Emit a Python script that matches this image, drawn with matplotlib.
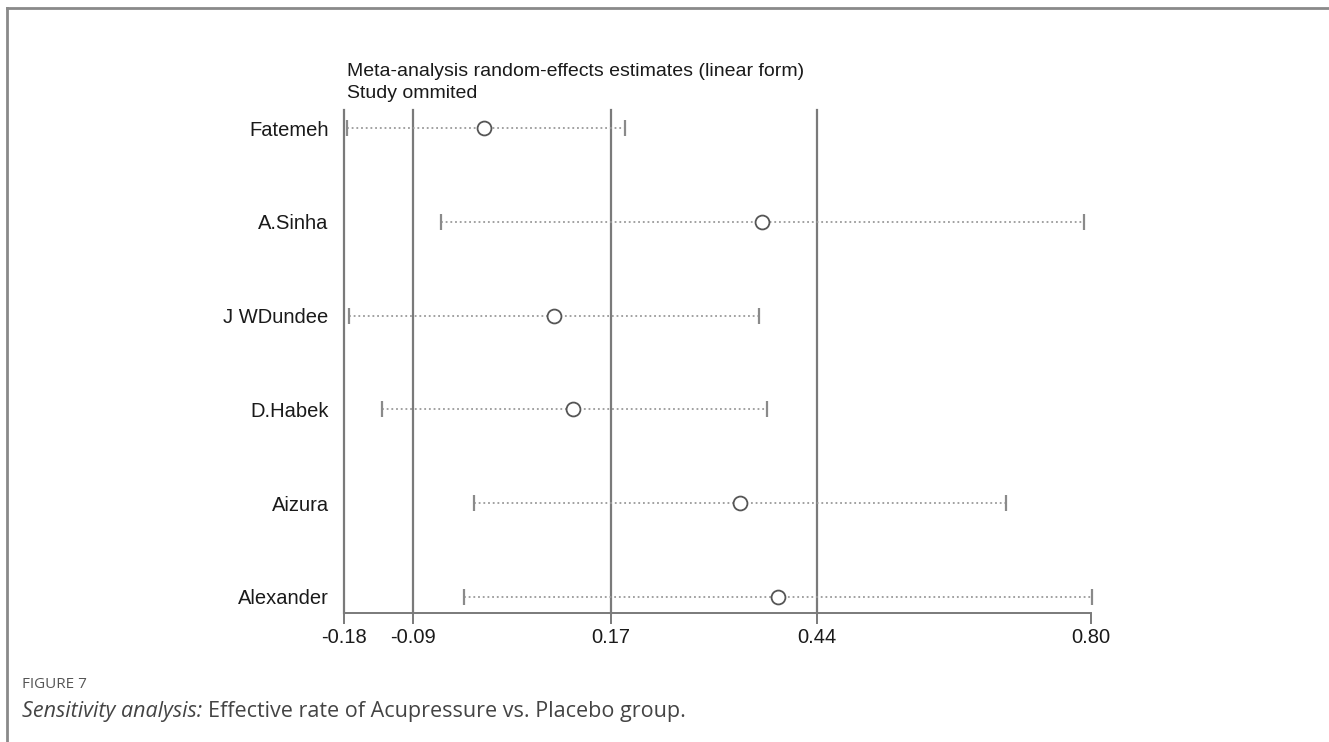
import matplotlib.pyplot as plt
from matplotlib.lines import Line2D

# Leave-one-out sensitivity estimates (linear form)
studies = ["Fatemeh", "A.Sinha", "J WDundee", "D.Habek", "Aizura", "Alexander"]
estimate = [0.004, 0.369, 0.095, 0.121, 0.340, 0.389]
ci_low = [-0.176, -0.053, -0.173, -0.130, -0.009, -0.022]
ci_high = [0.189, 0.791, 0.365, 0.375, 0.689, 0.801]
tick_values = [-0.18, -0.09, 0.17, 0.44, 0.80]
tick_labels = ["-0.18", "-0.09", "0.17", "0.44", "0.80"]
ref_lines = [-0.18, -0.09, 0.17, 0.44]

plt.rcParams["font.family"] = ["Liberation Sans", "DejaVu Sans"]

W, H = 1329, 742
fig = plt.figure(figsize=(W / 100, H / 100), dpi=100)
fig.patch.set_facecolor("white")

# page frame (top and left rules)
fig.add_artist(Line2D([7 / W, 1.0], [1 - 8 / H, 1 - 8 / H], color="#8a8a8a", lw=2))
fig.add_artist(Line2D([7 / W, 7 / W], [1 - 8 / H, 0.0], color="#8a8a8a", lw=2))

left, right = 344 / W, 1091 / W
bottom, top = 1 - 613 / H, 1 - 110 / H
ax = fig.add_axes([left, bottom, right - left, top - bottom])

n = len(studies)
ypos = list(range(n, 0, -1))
ax.set_xlim(-0.18, 0.80)
ax.set_ylim(1 - 16 / 93.8, n + 18 / 93.8)

for v in ref_lines:
    ax.axvline(v, color="#7a7a7a", lw=1.6, zorder=1, clip_on=False)

for y, lo, hi, est in zip(ypos, ci_low, ci_high, estimate):
    ax.plot([lo, hi], [y, y], linestyle=(0, (1, 1.6)), color="#9a9a9a", lw=1.3,
            zorder=2, clip_on=False)
    ax.plot([lo, hi], [y, y], linestyle="none", marker="|", markersize=12,
            markeredgewidth=1.6, color="#8a8a8a", zorder=3, clip_on=False)
    ax.plot([est], [y], linestyle="none", marker="o", markersize=10,
            markerfacecolor="white", markeredgecolor="#555555", markeredgewidth=1.3,
            zorder=4, clip_on=False)

for side in ["top", "right", "left"]:
    ax.spines[side].set_visible(False)
ax.spines["bottom"].set_color("#7a7a7a")
ax.spines["bottom"].set_linewidth(1.4)

ax.set_xticks(tick_values)
ax.set_xticklabels(tick_labels, fontsize=14.5, color="#1a1a1a")
ax.tick_params(axis="x", direction="out", length=8, width=1.4, color="#7a7a7a", pad=3)

ax.set_yticks(ypos)
ax.set_yticklabels(studies, fontsize=14.5, color="#1a1a1a")
ax.tick_params(axis="y", length=0, pad=11)

fig.text(347 / W, 1 - 71 / H, "Meta-analysis random-effects estimates (linear form)",
         fontsize=14, color="#1a1a1a", va="center", ha="left")
fig.text(347 / W, 1 - 94 / H, "Study ommited",
         fontsize=14, color="#1a1a1a", va="center", ha="left")

# caption
cap_font = ["Open Sans", "DejaVu Sans"]
fig.text(22 / W, 1 - 685 / H, "FIGURE 7", fontsize=11, color="#555555",
         family=cap_font, va="center", ha="left")
t1 = fig.text(22 / W, 1 - 711 / H, "Sensitivity analysis:", fontsize=15.5, color="#444444",
              family=cap_font, style="italic", va="center", ha="left")
fig.canvas.draw()
bb = t1.get_window_extent()
fig.text((bb.x1 + 6) / W, 1 - 711 / H, "Effective rate of Acupressure vs. Placebo group.",
         fontsize=15.5, color="#444444", family=cap_font, va="center", ha="left")

fig.savefig("out.png", dpi=100, facecolor="white")
